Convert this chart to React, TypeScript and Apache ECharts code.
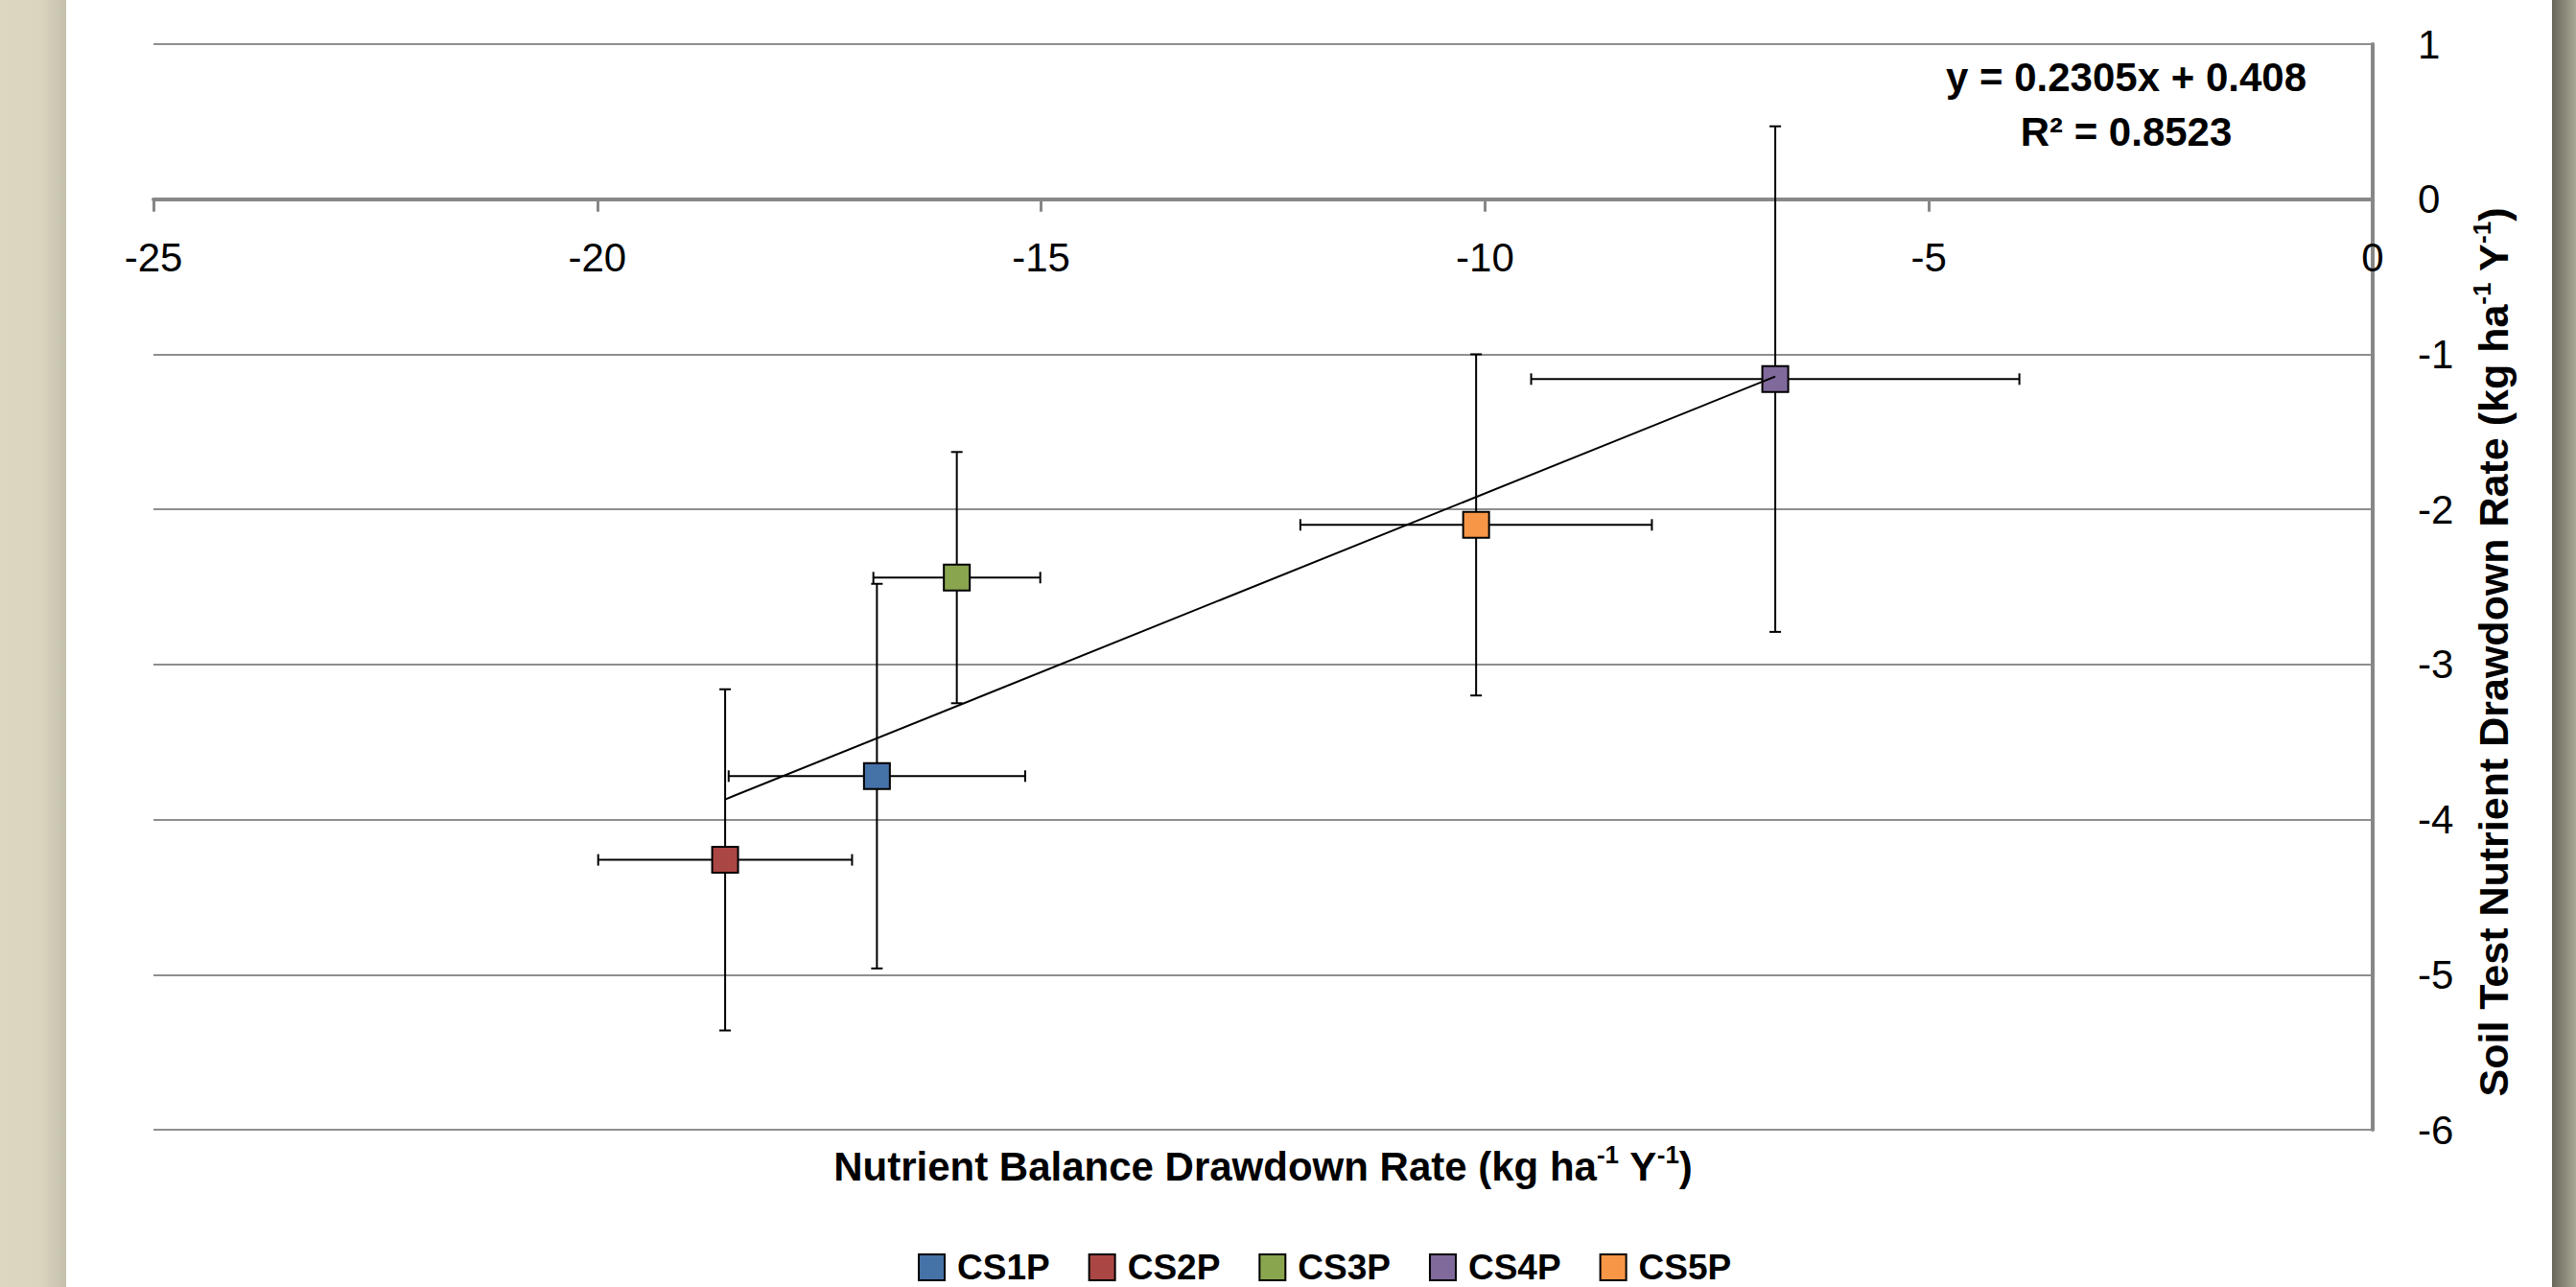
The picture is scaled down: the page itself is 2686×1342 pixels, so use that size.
import React, { useEffect, useRef } from "react";
import * as echarts from "echarts";

// ---- data ----
const seriesNames = ["CS1P", "CS2P", "CS3P", "CS4P", "CS5P"];
const xValues = [-16.85, -18.56, -15.95, -6.73, -10.1];
const yValues = [-3.72, -4.26, -2.44, -1.16, -2.1];
const xErrors = [1.67, 1.43, 0.94, 2.75, 1.98];
const yErrors = [1.24, 1.1, 0.81, 1.63, 1.1];
const seriesColors = ["#4572A7", "#AA4643", "#89A54E", "#80699B", "#F79646"];

const trendSlope = 0.2305;
const trendIntercept = 0.408;
const equationText = "y = 0.2305x + 0.408";
const r2Text = "R² = 0.8523";

const xTitle = "Nutrient Balance Drawdown Rate (kg ha{s|-1} Y{s|-1})";
const yTitle = "Soil Test Nutrient Drawdown Rate (kg ha{s|-1} Y{s|-1})";

const X_MIN = -25, X_MAX = 0, X_STEP = 5;
const Y_MIN = -6, Y_MAX = 1, Y_STEP = 1;

const FONT = "'Liberation Sans', Arial, sans-serif";

const GRID_TOP = 46;
const GRID_BOTTOM_PX = 1178;

export default function App() {
  const ref = useRef<HTMLDivElement>(null);

  useEffect(() => {
    if (!ref.current) return;
    const chart = echarts.init(ref.current, undefined, { renderer: "svg" });

    const minX = Math.min(...xValues);
    const maxX = Math.max(...xValues);

    // pixel of y = 0 within the plot, so the x axis sits on the zero line
    const plotH = GRID_BOTTOM_PX - GRID_TOP;
    const zeroY = GRID_TOP + (plotH * (Y_MAX - 0)) / (Y_MAX - Y_MIN);
    const xAxisOffset = -(GRID_BOTTOM_PX - zeroY);

    const scatterSeries = seriesNames.map((name, i) => ({
      name,
      type: "scatter",
      z: 3,
      symbol: "rect",
      symbolSize: 27,
      itemStyle: { color: seriesColors[i], borderColor: "#000", borderWidth: 2, opacity: 1 },
      data: [[xValues[i], yValues[i]]],
    }));

    const errorData = seriesNames.map((_, i) => [xValues[i], yValues[i], xErrors[i], yErrors[i]]);

    const richSup = {
      s: { fontSize: 26, fontWeight: "bold", fontFamily: FONT, verticalAlign: "top", lineHeight: 50, fill: "#000" },
    };

    const option: any = {
      animation: false,
      backgroundColor: "#ffffff",
      textStyle: { fontFamily: FONT },
      grid: { left: 160, right: 212, top: GRID_TOP, bottom: 1342 - GRID_BOTTOM_PX, containLabel: false },
      xAxis: {
        type: "value",
        min: X_MIN,
        max: X_MAX,
        interval: X_STEP,
        position: "bottom",
        offset: xAxisOffset,
        axisLine: { show: true, onZero: false, lineStyle: { color: "#878787", width: 4 } },
        axisTick: { show: true, length: 13, lineStyle: { color: "#878787", width: 3 } },
        axisLabel: { fontSize: 42, color: "#000", margin: 40, fontFamily: FONT },
        splitLine: { show: false },
      },
      yAxis: {
        type: "value",
        min: Y_MIN,
        max: Y_MAX,
        interval: Y_STEP,
        position: "right",
        axisLine: { show: true, onZero: false, lineStyle: { color: "#878787", width: 4 } },
        axisTick: { show: false },
        axisLabel: { fontSize: 42, color: "#000", margin: 47, fontFamily: FONT },
        splitLine: { show: true, lineStyle: { color: "#8e8e8e", width: 2 } },
      },
      legend: {
        data: seriesNames,
        left: 952,
        top: 1298,
        icon: "rect",
        itemWidth: 27,
        itemHeight: 27,
        itemGap: 40,
        textStyle: { fontSize: 37, fontWeight: "bold", color: "#000", fontFamily: FONT, padding: [0, 0, 0, 8] },
      },
      graphic: [
        {
          type: "rect",
          left: 0,
          top: 0,
          shape: { x: 0, y: 0, width: 69, height: 1342 },
          style: {
            fill: new echarts.graphic.LinearGradient(0, 0, 1, 0, [
              { offset: 0, color: "#ddd7c1" },
              { offset: 0.6, color: "#dbd5bf" },
              { offset: 1, color: "#c4c0ab" },
            ]),
          },
          silent: true,
        },
        {
          type: "rect",
          left: 2661,
          top: 0,
          shape: { x: 0, y: 0, width: 25, height: 1342 },
          style: {
            fill: new echarts.graphic.LinearGradient(0, 0, 1, 0, [
              { offset: 0, color: "#67665a" },
              { offset: 1, color: "#aaa795" },
            ]),
          },
          silent: true,
        },
        {
          type: "text",
          x: 2217,
          y: 80,
          style: {
            text: equationText,
            fontSize: 42,
            fontWeight: "bold",
            fontFamily: FONT,
            fill: "#000",
            align: "center",
            verticalAlign: "middle",
          },
        },
        {
          type: "text",
          x: 2217,
          y: 137,
          style: {
            text: r2Text,
            fontSize: 42,
            fontWeight: "bold",
            fontFamily: FONT,
            fill: "#000",
            align: "center",
            verticalAlign: "middle",
          },
        },
        {
          type: "text",
          x: 1317,
          y: 1216,
          style: {
            text: xTitle,
            fontSize: 42,
            fontWeight: "bold",
            fontFamily: FONT,
            fill: "#000",
            lineHeight: 50,
            align: "center",
            verticalAlign: "middle",
            rich: richSup,
          },
        },
        {
          type: "text",
          x: 2600,
          y: 680,
          rotation: Math.PI / 2,
          style: {
            text: yTitle,
            fontSize: 43,
            fontWeight: "bold",
            fontFamily: FONT,
            fill: "#000",
            lineHeight: 50,
            align: "center",
            verticalAlign: "middle",
            rich: richSup,
          },
        },
      ],
      series: [
        {
          name: "errorBars",
          type: "custom",
          z: 1,
          silent: true,
          data: errorData,
          renderItem: (params: any, api: any) => {
            const x = api.value(0);
            const y = api.value(1);
            const ex = api.value(2);
            const ey = api.value(3);
            const left = api.coord([x - ex, y]);
            const right = api.coord([x + ex, y]);
            const top = api.coord([x, y + ey]);
            const bottom = api.coord([x, y - ey]);
            const cap = 6;
            const st = { stroke: "#000", lineWidth: 2 };
            return {
              type: "group",
              children: [
                { type: "line", shape: { x1: left[0], y1: left[1], x2: right[0], y2: right[1] }, style: st },
                { type: "line", shape: { x1: left[0], y1: left[1] - cap, x2: left[0], y2: left[1] + cap }, style: st },
                { type: "line", shape: { x1: right[0], y1: right[1] - cap, x2: right[0], y2: right[1] + cap }, style: st },
                { type: "line", shape: { x1: top[0], y1: top[1], x2: bottom[0], y2: bottom[1] }, style: st },
                { type: "line", shape: { x1: top[0] - cap, y1: top[1], x2: top[0] + cap, y2: top[1] }, style: st },
                { type: "line", shape: { x1: bottom[0] - cap, y1: bottom[1], x2: bottom[0] + cap, y2: bottom[1] }, style: st },
              ],
            };
          },
        },
        ...scatterSeries,
        {
          name: "trend",
          type: "line",
          z: 4,
          silent: true,
          symbol: "none",
          lineStyle: { color: "#000", width: 2 },
          data: [
            [minX, trendSlope * minX + trendIntercept],
            [maxX, trendSlope * maxX + trendIntercept],
          ],
        },
      ],
    };

    chart.setOption(option);
    return () => chart.dispose();
  }, []);

  return (
    <div
      ref={ref}
      style={{ position: "fixed", left: 0, top: 0, width: 2686, height: 1342 }}
    />
  );
}
